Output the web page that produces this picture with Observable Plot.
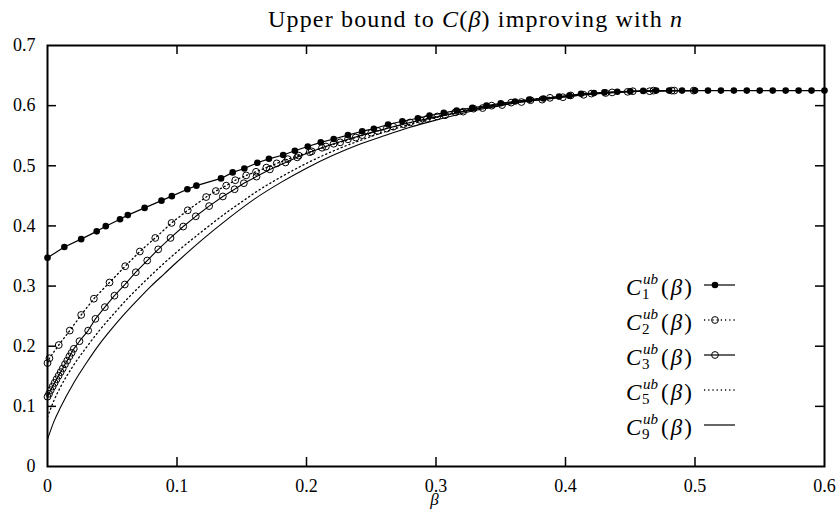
<!DOCTYPE html>
<html>
<head>
<meta charset="utf-8">
<script src="https://cdn.jsdelivr.net/npm/d3@7"></script>
<script src="https://cdn.jsdelivr.net/npm/@observablehq/plot@0.6"></script>
<style>
  html, body { margin: 0; padding: 0; background: #fff; }
</style>
</head>
<body>
<div id="chart"></div>
<script>
// ---------- data ----------
const xTicks = [0, 0.1, 0.2, 0.3, 0.4, 0.5, 0.6];
const yTicks = [0, 0.1, 0.2, 0.3, 0.4, 0.5, 0.6, 0.7];

const c1Beta = [0, 0.013, 0.026, 0.038, 0.045, 0.056, 0.062, 0.075, 0.088, 0.096, 0.108, 0.115, 0.134, 0.143, 0.152, 0.162, 0.171, 0.182, 0.191, 0.201, 0.211, 0.221, 0.232, 0.243, 0.252, 0.263, 0.274, 0.286, 0.295, 0.306, 0.316, 0.328, 0.339, 0.35, 0.361, 0.372, 0.383, 0.395, 0.403, 0.412, 0.422, 0.43, 0.44, 0.45, 0.46, 0.47, 0.48, 0.49, 0.5, 0.51, 0.52, 0.53, 0.54, 0.55, 0.56, 0.57, 0.58, 0.59, 0.6];
const c1Val  = [0.347, 0.365, 0.378, 0.391, 0.3996, 0.411, 0.418, 0.43, 0.442, 0.4495, 0.461, 0.467, 0.479, 0.489, 0.4955, 0.505, 0.5116, 0.518, 0.525, 0.532, 0.539, 0.5446, 0.551, 0.5575, 0.5615, 0.5687, 0.574, 0.579, 0.5836, 0.588, 0.592, 0.5965, 0.6, 0.604, 0.607, 0.61, 0.612, 0.615, 0.6166, 0.6197, 0.621, 0.622, 0.623, 0.624, 0.6245, 0.625, 0.625, 0.625, 0.625, 0.625, 0.625, 0.625, 0.625, 0.625, 0.625, 0.625, 0.625, 0.625, 0.625];

const c2Beta = [0, 0.0015, 0.0087, 0.0172, 0.026, 0.0358, 0.0479, 0.06, 0.0713, 0.0832, 0.0958, 0.1083, 0.1225, 0.13, 0.138, 0.145, 0.1534, 0.161, 0.169, 0.177, 0.1856, 0.194, 0.204, 0.215, 0.226, 0.238, 0.25, 0.262, 0.275, 0.288, 0.301, 0.315, 0.329, 0.343, 0.358, 0.373, 0.388, 0.404, 0.42, 0.436, 0.452, 0.468, 0.484];
const c2Val  = [0.172, 0.18, 0.202, 0.226, 0.252, 0.279, 0.306, 0.333, 0.3575, 0.38, 0.405, 0.426, 0.448, 0.458, 0.467, 0.476, 0.484, 0.49, 0.497, 0.504, 0.511, 0.517, 0.524, 0.532, 0.539, 0.547, 0.555, 0.562, 0.569, 0.576, 0.582, 0.589, 0.595, 0.6, 0.605, 0.609, 0.613, 0.617, 0.62, 0.622, 0.624, 0.625, 0.625];

const c3Beta = [0, 0.0012, 0.0025, 0.004, 0.0055, 0.007, 0.0086, 0.0102, 0.0118, 0.0135, 0.0152, 0.0169, 0.0186, 0.0203, 0.0247, 0.0314, 0.037, 0.0443, 0.0517, 0.0597, 0.0682, 0.077, 0.0855, 0.095, 0.1048, 0.1145, 0.1248, 0.1354, 0.1445, 0.1516, 0.1614, 0.1717, 0.1838, 0.1928, 0.2025, 0.212, 0.221, 0.232, 0.243, 0.255, 0.267, 0.28, 0.293, 0.307, 0.321, 0.336, 0.351, 0.366, 0.382, 0.398, 0.414, 0.431, 0.448, 0.465, 0.482, 0.499];
const c3Val  = [0.116, 0.121, 0.127, 0.133, 0.139, 0.145, 0.151, 0.157, 0.163, 0.17, 0.176, 0.183, 0.189, 0.1957, 0.2083, 0.226, 0.2455, 0.265, 0.284, 0.3026, 0.323, 0.3425, 0.361, 0.38, 0.399, 0.416, 0.433, 0.449, 0.461, 0.471, 0.482, 0.494, 0.5055, 0.514, 0.5226, 0.53, 0.5366, 0.544, 0.551, 0.558, 0.565, 0.572, 0.578, 0.584, 0.59, 0.596, 0.601, 0.606, 0.61, 0.614, 0.618, 0.621, 0.623, 0.624, 0.625, 0.625];

const c5Beta = [0, 0.005, 0.01, 0.02, 0.03, 0.04, 0.05, 0.06, 0.07, 0.08, 0.09, 0.1, 0.12, 0.14, 0.15, 0.16, 0.18, 0.2, 0.22, 0.24, 0.26, 0.28, 0.3, 0.32, 0.34, 0.36, 0.38, 0.4, 0.42, 0.44, 0.46, 0.48, 0.5];
const c5Val  = [0.082, 0.11, 0.132, 0.168, 0.198, 0.226, 0.251, 0.275, 0.297, 0.318, 0.338, 0.357, 0.392, 0.425, 0.44, 0.455, 0.481, 0.504, 0.524, 0.541, 0.556, 0.569, 0.58, 0.59, 0.599, 0.606, 0.612, 0.616, 0.62, 0.623, 0.624, 0.625, 0.625];

const c9Beta = [0, 0.005, 0.01, 0.02, 0.03, 0.04, 0.05, 0.06, 0.07, 0.08, 0.09, 0.1, 0.12, 0.14, 0.16, 0.18, 0.2, 0.22, 0.24, 0.26, 0.28, 0.3, 0.32, 0.34, 0.36, 0.38, 0.4, 0.42, 0.44, 0.46, 0.48, 0.5];
const c9Val  = [0.045, 0.075, 0.098, 0.138, 0.172, 0.203, 0.23, 0.255, 0.278, 0.3, 0.32, 0.34, 0.378, 0.413, 0.445, 0.472, 0.496, 0.517, 0.535, 0.55, 0.564, 0.576, 0.587, 0.596, 0.604, 0.61, 0.615, 0.619, 0.622, 0.624, 0.625, 0.625];

const seriesNames = ["1", "2", "3", "5", "9"];

// ---------- build tables ----------
const zip = (bs, vs) => bs.map((b, i) => ({b, v: vs[i]}));
const d1 = zip(c1Beta, c1Val), d2 = zip(c2Beta, c2Val), d3s = zip(c3Beta, c3Val),
      d5 = zip(c5Beta, c5Val), d9 = zip(c9Beta, c9Val);

const W = 838, H = 514;
const mL = 47, mR = 14, mT = 45, mB = 48;
const innerW = W - mL - mR, innerH = H - mT - mB;
const tickLen = 9;
const fmt = d => d === 0 ? "0" : d.toFixed(1);
const FONT = "Liberation Serif";

const chart = Plot.plot({
  width: W, height: H,
  marginLeft: mL, marginRight: mR, marginTop: mT, marginBottom: mB,
  x: {domain: [0, 0.6]},
  y: {domain: [0, 0.7]},
  marks: [
    Plot.axisX({ticks: xTicks, tickSize: 0, tickPadding: 13, tickFormat: fmt, label: null}),
    Plot.axisY({ticks: yTicks, tickSize: 0, tickPadding: 12, tickFormat: fmt, label: null}),
    Plot.tickX(xTicks.slice(1, -1), {x: d => d, insetTop: innerH - tickLen, stroke: "black", strokeWidth: 1.5}),
    Plot.tickX(xTicks.slice(1, -1), {x: d => d, insetBottom: innerH - tickLen, stroke: "black", strokeWidth: 1.5}),
    Plot.tickY(yTicks.slice(1, -1), {y: d => d, insetRight: innerW - tickLen, stroke: "black", strokeWidth: 1.5}),
    Plot.tickY(yTicks.slice(1, -1), {y: d => d, insetLeft: innerW - tickLen, stroke: "black", strokeWidth: 1.5}),
    // C9 solid
    Plot.line(d9, {x: "b", y: "v", stroke: "black", strokeWidth: 1.1, curve: "monotone-x"}),
    // C5 dotted
    Plot.line(d5, {x: "b", y: "v", stroke: "black", strokeWidth: 1.3, strokeDasharray: "1.2,3", curve: "monotone-x"}),
    // C3 circles + solid
    Plot.line(d3s, {x: "b", y: "v", stroke: "black", strokeWidth: 1.1}),
    Plot.dot(d3s, {x: "b", y: "v", r: 3.4, stroke: "black", fill: "none", strokeWidth: 1}),
    // C2 circles + dotted
    Plot.line(d2, {x: "b", y: "v", stroke: "black", strokeWidth: 1.3, strokeDasharray: "1.2,3"}),
    Plot.dot(d2, {x: "b", y: "v", r: 3.4, stroke: "black", fill: "none", strokeWidth: 1}),
    // C1 filled dots + solid
    Plot.line(d1, {x: "b", y: "v", stroke: "black", strokeWidth: 1.2}),
    Plot.dot(d1, {x: "b", y: "v", r: 3.3, fill: "black"}),
    Plot.frame({stroke: "black", strokeWidth: 2})
  ]
});

document.getElementById("chart").appendChild(chart);

// ---------- fonts for the axes ----------
const svg = d3.select(chart);
svg.attr("font-family", FONT).attr("font-size", 18).attr("fill", "black");
svg.selectAll("text").attr("font-family", FONT).attr("font-size", 18).attr("fill", "black");

// ---------- title, axis label and legend (rich text) ----------
const title = svg.append("text")
  .attr("x", 475).attr("y", 27)
  .attr("text-anchor", "middle")
  .attr("font-family", FONT).attr("font-size", 24).attr("fill", "black")
  .attr("textLength", 414).attr("lengthAdjust", "spacing");
title.append("tspan").text("Upper bound to ");
title.append("tspan").attr("font-style", "italic").text("C");
title.append("tspan").text("(");
title.append("tspan").attr("font-style", "italic").text("β");
title.append("tspan").text(") improving with ");
title.append("tspan").attr("font-style", "italic").text("n");

svg.append("text")
  .attr("x", mL + innerW / 2 - 1).attr("y", 505)
  .attr("text-anchor", "middle")
  .attr("font-family", FONT).attr("font-size", 17).attr("font-style", "italic")
  .attr("fill", "black").text("β");

const legendStyles = [
  {dash: null, marker: "filled"},
  {dash: "1.2,3", marker: "open"},
  {dash: null, marker: "open"},
  {dash: "1.2,3", marker: null},
  {dash: null, marker: null}
];
const lg = svg.append("g").attr("font-family", FONT).attr("fill", "black").attr("text-anchor", "start");
const legendY0 = 285, legendStep = 35;
seriesNames.forEach((n, i) => {
  const yc = legendY0 + i * legendStep;
  const g = lg.append("g");
  g.append("text").attr("x", 626).attr("y", yc + 10).attr("font-size", 23).attr("font-style", "italic").text("C");
  g.append("text").attr("x", 643).attr("y", yc - 1).attr("font-size", 15).attr("font-style", "italic").text("ub");
  g.append("text").attr("x", 642).attr("y", yc + 14).attr("font-size", 15).text(n);
  const t = g.append("text").attr("x", 661).attr("y", yc + 10).attr("font-size", 23)
    .attr("textLength", 31).attr("lengthAdjust", "spacing");
  t.append("tspan").text("(");
  t.append("tspan").attr("font-style", "italic").text("β");
  t.append("tspan").text(")");
  const st = legendStyles[i];
  const ln = g.append("line").attr("x1", 704).attr("x2", 735).attr("y1", yc).attr("y2", yc)
    .attr("stroke", "black").attr("stroke-width", st.dash ? 1.3 : 1.2);
  if (st.dash) ln.attr("stroke-dasharray", st.dash);
  if (st.marker === "filled") g.append("circle").attr("cx", 715).attr("cy", yc).attr("r", 3.3).attr("fill", "black");
  if (st.marker === "open") g.append("circle").attr("cx", 715).attr("cy", yc).attr("r", 3.4).attr("fill", "none").attr("stroke", "black");
});
</script>
</body>
</html>
